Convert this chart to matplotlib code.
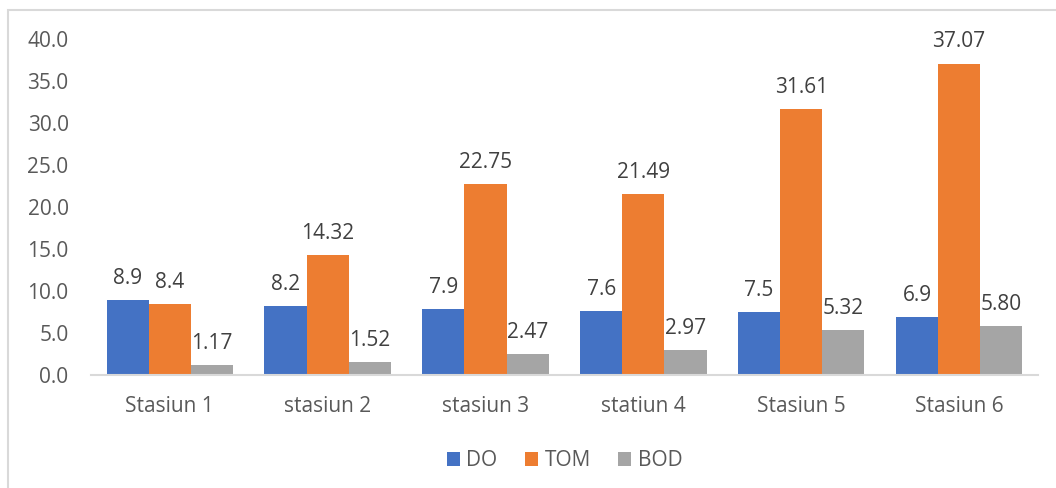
import matplotlib.pyplot as plt
import numpy as np
from matplotlib.patches import Rectangle

categories = ['Stasiun 1', 'stasiun 2', 'stasiun 3', 'statiun 4', 'Stasiun 5', 'Stasiun 6']
do_values = [8.9, 8.2, 7.9, 7.6, 7.5, 6.9]
tom_values = [8.4, 14.32, 22.75, 21.49, 31.61, 37.07]
bod_values = [1.17, 1.52, 2.47, 2.97, 5.32, 5.80]
do_labels = ['8.9', '8.2', '7.9', '7.6', '7.5', '6.9']
tom_labels = ['8.4', '14.32', '22.75', '21.49', '31.61', '37.07']
bod_labels = ['1.17', '1.52', '2.47', '2.97', '5.32', '5.80']
y_ticks = [0, 5, 10, 15, 20, 25, 30, 35, 40]

plt.rcParams['font.family'] = ['Open Sans', 'DejaVu Sans']
fs = 15

fig = plt.figure(figsize=(10.56, 4.88), dpi=100)
ax = fig.add_axes([0.086, 0.2316, 0.897, 0.6885])

# outer chart border (only left and top are visible in the reference)
fig.patches.append(Rectangle((8 / 1056, -0.1), 1.2, 1 - 10 / 488 + 0.1,
                             transform=fig.transFigure, fill=False,
                             edgecolor='#d9d9d9', linewidth=1.5))

x = np.arange(len(categories))
w = 0.267
series = [
    ('DO', do_values, do_labels, '#4472c4'),
    ('TOM', tom_values, tom_labels, '#ed7d31'),
    ('BOD', bod_values, bod_labels, '#a5a5a5'),
]
for i, (name, vals, labels, color) in enumerate(series):
    bars = ax.bar(x + (i - 1) * w, vals, w, color=color, label=name)
    ax.bar_label(bars, labels=labels, padding=8, fontsize=fs, color='#404040')

ax.set_xlim(-0.5, len(categories) - 0.5)
ax.set_ylim(0, 40)
ax.set_yticks(y_ticks)
ax.set_yticklabels([f'{v:.1f}' for v in y_ticks])
ax.set_xticks(x)
ax.set_xticklabels(categories)
ax.tick_params(axis='both', length=0, labelsize=fs, labelcolor='#595959')
ax.tick_params(axis='x', pad=15)
ax.tick_params(axis='y', pad=16)

for side in ['top', 'right', 'left']:
    ax.spines[side].set_visible(False)
ax.spines['bottom'].set_color('#d9d9d9')
ax.spines['bottom'].set_linewidth(1.5)

leg = ax.legend(loc='center', bbox_to_anchor=(0.5, -0.256), ncol=3, frameon=False,
                fontsize=fs, handlelength=0.65, handleheight=0.65,
                handletextpad=0.3, columnspacing=1.3)
for t in leg.get_texts():
    t.set_color('#595959')

fig.savefig('out.png', dpi=100)
